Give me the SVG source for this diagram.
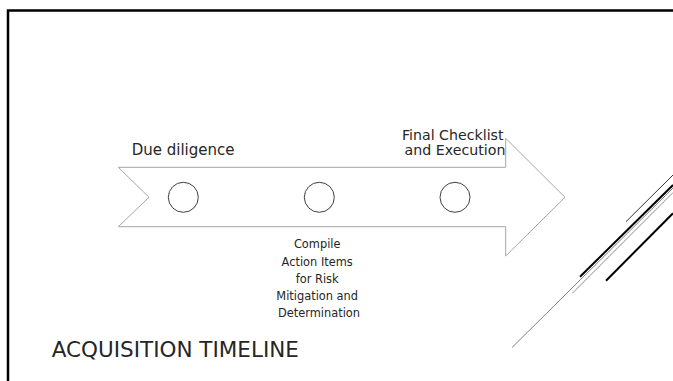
<svg xmlns="http://www.w3.org/2000/svg" width="673" height="381" viewBox="0 0 673 381">
  <style>
    .lbl { font-family: "DejaVu Sans", "Liberation Sans", sans-serif; fill: #262626; }
    .arrow { fill: #ffffff; stroke: #a6a6a6; stroke-width: 1; }
    .dot { fill: #ffffff; stroke: #404040; stroke-width: 1; }
    .deco { fill: none; stroke-linecap: butt; }
  </style>
  <rect x="0" y="0" width="673" height="381" fill="#ffffff"/>
  <path d="M8,381 V10.5 H673" fill="none" stroke="#000000" stroke-width="2.5"/>

  <g id="decoration" class="deco">
    <line x1="626" y1="221.7" x2="673" y2="175" stroke="#333333" stroke-width="1"/>
    <line x1="580" y1="276.7" x2="673" y2="185" stroke="#000000" stroke-width="2"/>
    <line x1="512" y1="347.5" x2="673" y2="188" stroke="#7f7f7f" stroke-width="1"/>
    <line x1="572.3" y1="293.3" x2="673" y2="192.5" stroke="#8c8c8c" stroke-width="1"/>
    <line x1="606" y1="280.7" x2="673" y2="213.3" stroke="#000000" stroke-width="2"/>
  </g>

  <g id="timeline-arrow">
    <polygon class="arrow" points="118.3,167.3 505.7,167.3 505.7,138.3 565,197.3 505.7,256 505.7,226.7 118.3,226.7 149,197.3"/>
  </g>

  <g id="connectors"></g>

  <g id="node-due-diligence">
    <circle class="dot" cx="183.3" cy="197.3" r="15"/>
    <text class="lbl" x="131.7" y="155" font-size="15">Due diligence</text>
  </g>

  <g id="node-compile">
    <circle class="dot" cx="319.3" cy="197.3" r="15"/>
    <text class="lbl" font-size="11.4" text-anchor="middle">
      <tspan x="319" y="248.3">Compile</tspan>
      <tspan x="319" y="265.5">Action Items</tspan>
      <tspan x="319" y="282.6">for Risk</tspan>
      <tspan x="319" y="299.7">Mitigation and</tspan>
      <tspan x="319" y="316.8">Determination</tspan>
    </text>
  </g>

  <g id="node-final">
    <circle class="dot" cx="455" cy="197.3" r="15"/>
    <text class="lbl" font-size="14.2" text-anchor="middle">
      <tspan x="455" y="140">Final Checklist</tspan>
      <tspan x="455" y="155">and Execution</tspan>
    </text>
  </g>

  <g id="title">
    <text class="lbl" x="51.7" y="356.7" font-size="21.5">ACQUISITION TIMELINE</text>
  </g>
</svg>
